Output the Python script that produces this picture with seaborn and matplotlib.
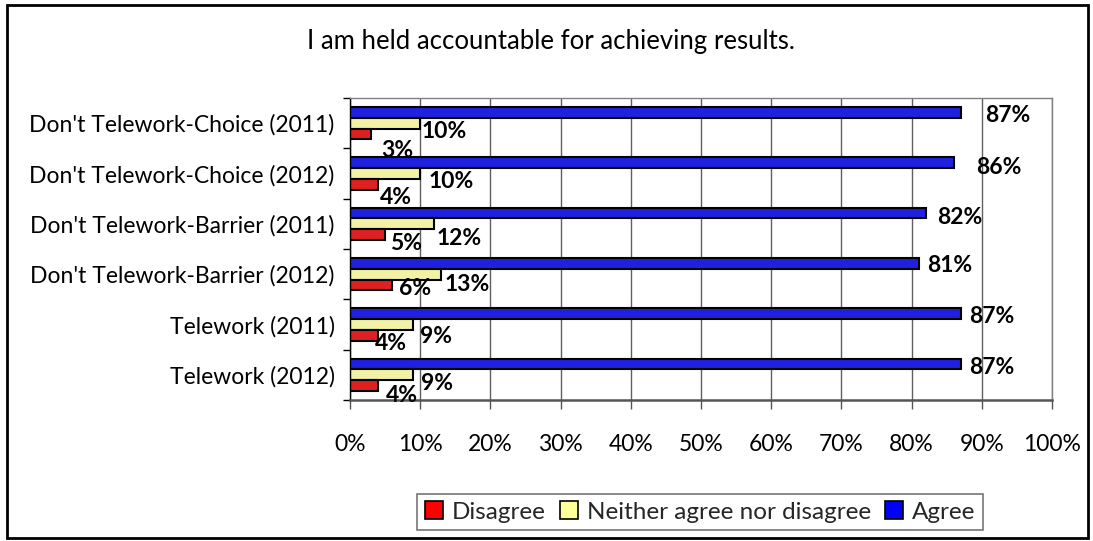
import matplotlib
matplotlib.use("Agg")
import matplotlib.pyplot as plt
from matplotlib.patches import Rectangle, Patch
from matplotlib.ticker import FixedLocator, PercentFormatter
import seaborn as sns
import pandas as pd

# Survey results: share of respondents per answer (%)
groups = [
    "Don't Telework-Choice (2011)",
    "Don't Telework-Choice (2012)",
    "Don't Telework-Barrier (2011)",
    "Don't Telework-Barrier (2012)",
    "Telework (2011)",
    "Telework (2012)",
]
disagree = [3, 4, 5, 6, 4, 4]
neither = [10, 10, 12, 13, 9, 9]
agree = [87, 86, 82, 81, 87, 87]

responses = ["Disagree", "Neither agree nor disagree", "Agree"]
colors = {"Disagree": "#FF0000", "Neither agree nor disagree": "#FFFF99", "Agree": "#0000FF"}

# Label nudges in pixels (dx right, dy down) relative to the bar end / bar centre
label_nudge = {
    "Agree": [(24, 3.5), (22, 4.5), (11, 4.5), (9, 2.5), (8, 2.5), (8, 3.5)],
    "Neither agree nor disagree": [(1, 8), (8, 8), (2, 15), (3, 10), (7, 12), (8, 9)],
    "Disagree": [(10, 16.5), (2, 13.5), (5, 8.5), (7, 3.5), (-3, 8.5), (8, 9.5)],
}

df = pd.DataFrame({
    "group": groups * 3,
    "response": ["Disagree"] * 6 + ["Neither agree nor disagree"] * 6 + ["Agree"] * 6,
    "pct": disagree + neither + agree,
})

sns.set_theme(style="white")
plt.rcParams["font.family"] = ["Lato", "DejaVu Sans"]

W, H = 1093, 541
fig = plt.figure(figsize=(W / 100, H / 100), dpi=100)
ax = fig.add_axes([350 / W, 1 - 400 / H, 702 / W, 302 / H])

draw_order = ["Agree", "Neither agree nor disagree", "Disagree"]
sns.barplot(
    data=df, y="group", x="pct", hue="response", order=groups,
    hue_order=draw_order, palette=colors, orient="h", width=0.64,
    edgecolor="black", linewidth=1.5, ax=ax, legend=False, errorbar=None,
)

ax.set_xlim(0, 100)
ax.set_ylim(len(groups) - 0.5, -0.5)
ax.set_xlabel("")
ax.set_ylabel("")

# value labels
for resp, cont in zip(draw_order, ax.containers):
    for i, bar in enumerate(cont):
        val = bar.get_width()
        yc = bar.get_y() + bar.get_height() / 2
        dx, dy = label_nudge[resp][i]
        ax.annotate(f"{val:.0f}%", xy=(val, yc), xytext=(dx, -dy),
                    textcoords="offset pixels", ha="left", va="center",
                    fontsize=16.5, fontweight="bold", color="black")

# grid and axes styling
ax.set_xticks(range(0, 101, 10))
ax.xaxis.set_major_formatter(PercentFormatter(decimals=0))
ax.grid(axis="x", color="#606060", linewidth=1.0)
ax.grid(axis="y", visible=False)
ax.set_axisbelow(True)

ax.yaxis.set_minor_locator(FixedLocator([i - 0.5 for i in range(len(groups) + 1)]))
ax.tick_params(axis="y", which="major", length=0, pad=11, labelsize=16.5, labelcolor="black")
ax.tick_params(axis="y", which="minor", left=True, length=5, width=1, color="black", direction="out")
ax.tick_params(axis="x", which="major", bottom=True, length=6.5, width=1, color="#555555",
               direction="out", pad=18, labelsize=16.5, labelcolor="black")

for side in ["top", "right"]:
    ax.spines[side].set_visible(True)
    ax.spines[side].set_color("#808080")
    ax.spines[side].set_linewidth(1.0)
ax.spines["left"].set_color("black")
ax.spines["left"].set_linewidth(1.0)
ax.spines["bottom"].set_color("#555555")
ax.spines["bottom"].set_linewidth(1.8)

# title
fig.text(551 / W, 1 - 42 / H, "I am held accountable for achieving results.",
         ha="center", va="center", fontsize=18.5, color="black")

# legend
handles = [Patch(facecolor=colors[r], edgecolor="black", linewidth=1.2) for r in responses]
leg = fig.legend(handles, responses, loc="center", bbox_to_anchor=(700 / W, 1 - 512 / H),
                 ncol=3, frameon=True, fancybox=False, fontsize=17.5,
                 handlelength=0.75, handleheight=0.75, handletextpad=0.35,
                 columnspacing=0.6, borderpad=0.3, borderaxespad=0)
leg.get_frame().set_edgecolor("#555555")
leg.get_frame().set_linewidth(1.2)

# outer chart frame
fig.patches.append(Rectangle((7 / W, 3 / H), 1081 / W, 533 / H, transform=fig.transFigure,
                             fill=False, edgecolor="black", linewidth=2))

fig.savefig("out.png", dpi=100)
